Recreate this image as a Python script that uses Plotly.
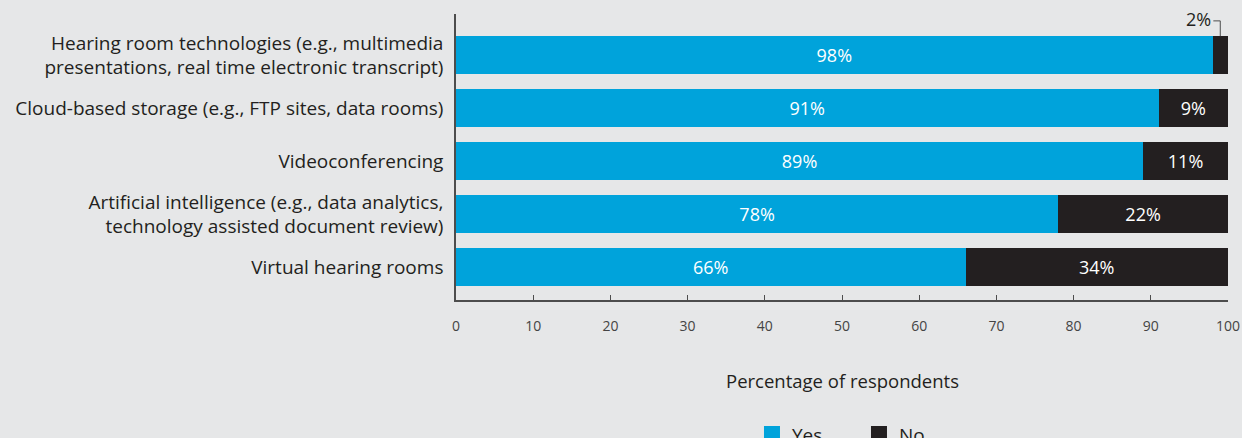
import plotly.graph_objects as go

categories = [
    'Hearing room technologies (e.g., multimedia<br>presentations, real time electronic transcript)',
    'Cloud-based storage (e.g., FTP sites, data rooms)',
    'Videoconferencing',
    'Artificial intelligence (e.g., data analytics,<br>technology assisted document review)',
    'Virtual hearing rooms',
]
yes_values = [98, 91, 89, 78, 66]
no_values = [2, 9, 11, 22, 34]
x_ticks = [0, 10, 20, 30, 40, 50, 60, 70, 80, 90, 100]

BLUE = '#00a3db'
BLACK = '#231f20'
BG = '#e6e7e8'
AXIS = '#4d4d4d'
FONT = 'Open Sans, Liberation Sans, Arial, sans-serif'
SIZE = 19

# small segments get their label outside with a leader line
inside_min = 5
no_text = [f'{v}%' if v >= inside_min else '' for v in no_values]

fig = go.Figure()

fig.add_trace(go.Bar(
    y=categories, x=yes_values, orientation='h', name='Yes',
    marker=dict(color=BLUE, line=dict(width=0)),
    text=[f'{v}%' for v in yes_values], textposition='inside',
    insidetextanchor='middle', textangle=0,
    textfont=dict(color='white', size=SIZE - 1, family=FONT),
    width=0.72, showlegend=False, hoverinfo='skip',
))
fig.add_trace(go.Bar(
    y=categories, x=no_values, orientation='h', name='No',
    marker=dict(color=BLACK, line=dict(width=0)),
    text=no_text, textposition='inside',
    insidetextanchor='middle', textangle=0,
    textfont=dict(color='white', size=SIZE - 1, family=FONT),
    width=0.72, showlegend=False, hoverinfo='skip',
))

# legend entries with larger square swatches
for name, color in [('Yes', BLUE), ('No', BLACK)]:
    fig.add_trace(go.Scatter(
        x=[None], y=[None], mode='markers', name=name,
        marker=dict(symbol='square', size=16, color=color),
    ))

# outside labels with leader line for small "No" values
for i, (yv, nv) in enumerate(zip(yes_values, no_values)):
    if nv >= inside_min:
        continue
    mid = yv + nv / 2
    fig.add_annotation(
        x=yv, y=i - 0.68, xref='x', yref='y', text=f'{nv}%',
        showarrow=False, xanchor='right', yanchor='middle',
        font=dict(size=SIZE - 1, color=BLACK, family=FONT),
    )
    fig.add_shape(type='line', x0=mid, x1=mid, y0=i - 0.36, y1=i - 0.65,
                  xref='x', yref='y', line=dict(color=AXIS, width=1))
    fig.add_shape(type='line', x0=yv + 0.1, x1=mid, y0=i - 0.65, y1=i - 0.65,
                  xref='x', yref='y', line=dict(color=AXIS, width=1))

fig.add_annotation(
    x=0.5, y=-0.28, xref='paper', yref='paper', text='Percentage of respondents',
    showarrow=False, xanchor='center', yanchor='middle',
    font=dict(size=SIZE - 0.5, color=BLACK, family=FONT),
)

fig.update_layout(
    barmode='stack',
    width=1242, height=438,
    margin=dict(l=456, r=14, t=14, b=138, autoexpand=False),
    paper_bgcolor=BG, plot_bgcolor=BG,
    font=dict(family=FONT, color=BLACK),
    legend=dict(
        orientation='h', traceorder='normal',
        x=0.3834, xanchor='left', y=-0.403, yanchor='top',
        font=dict(size=SIZE, color=BLACK, family=FONT),
        entrywidth=62, entrywidthmode='pixels', bgcolor='rgba(0,0,0,0)',
        itemclick=False,
    ),
)

fig.update_xaxes(
    range=[0, 100], tickvals=x_ticks, showgrid=False, zeroline=False,
    showline=True, linecolor=AXIS, linewidth=1.5,
    ticks='inside', ticklen=5, tickcolor=AXIS, tickwidth=1,
    ticklabelstandoff=12,
    tickfont=dict(size=14, color='#444', family=FONT),
)
fig.update_yaxes(
    categoryorder='array', categoryarray=categories,
    range=[4.62, -0.78], showgrid=False, zeroline=False,
    showline=True, linecolor=AXIS, linewidth=1.5, ticks='',
    ticklabelstandoff=7,
    tickfont=dict(size=SIZE, color=BLACK, family=FONT),
)

# drop the browser's default page margin so the figure fills the window
fig.write_html('out.html', config={'displayModeBar': False},
               post_script="document.body.style.margin='0';")
